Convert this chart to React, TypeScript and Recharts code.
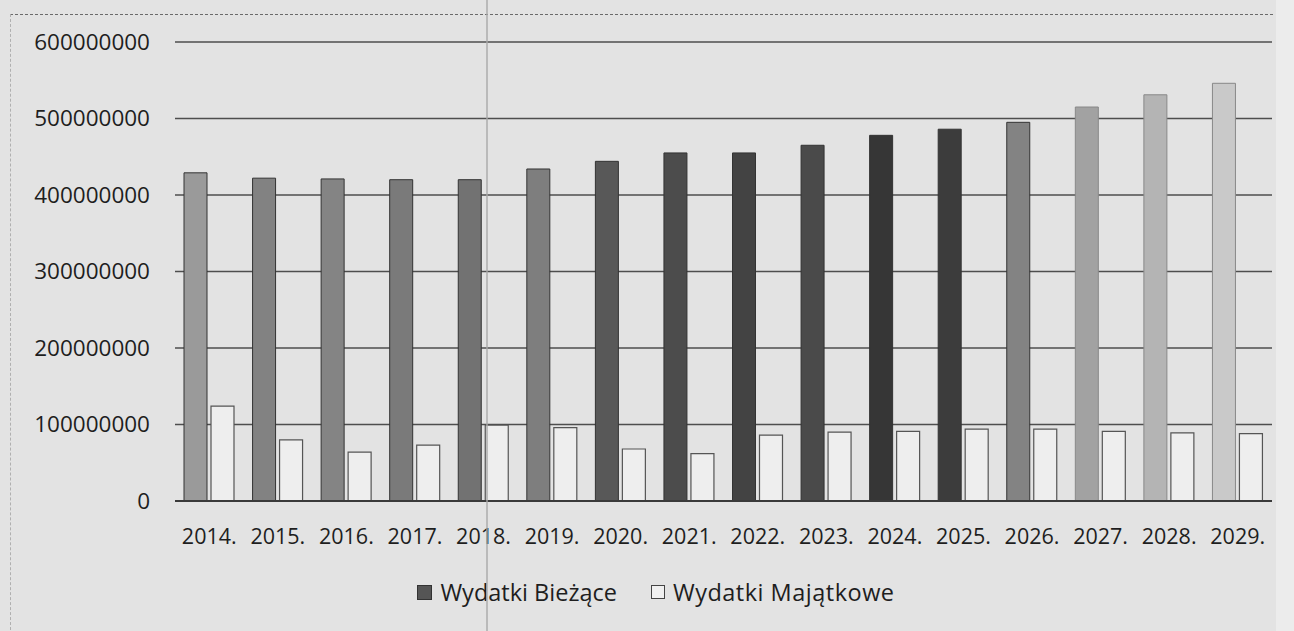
import { BarChart, Bar, XAxis, YAxis, CartesianGrid, Legend, Cell } from 'recharts'

// lata
const years = ['2014.', '2015.', '2016.', '2017.', '2018.', '2019.', '2020.', '2021.', '2022.', '2023.', '2024.', '2025.', '2026.', '2027.', '2028.', '2029.']
const wydatkiBiezace = [429e6, 422e6, 421e6, 420e6, 420e6, 434e6, 444e6, 455e6, 455e6, 465e6, 478e6, 486e6, 495e6, 515e6, 531e6, 546e6]
const wydatkiMajatkowe = [124e6, 80e6, 64e6, 73e6, 99e6, 96e6, 68e6, 62e6, 86e6, 90e6, 91e6, 94e6, 94e6, 91e6, 89e6, 88e6]
const yTicks = [0, 100000000, 200000000, 300000000, 400000000, 500000000, 600000000]

// odcienie ciemnych slupkow (skan)
const darkShades = ['#9a9a9a', '#828282', '#848484', '#7a7a7a', '#727272', '#7e7e7e', '#585858', '#4c4c4c', '#434343', '#4a4a4a', '#363636', '#3c3c3c', '#838383', '#a2a2a2', '#b4b4b4', '#c9c9c9']

const data = years.map((y, i) => ({
  year: y,
  biezace: wydatkiBiezace[i],
  majatkowe: wydatkiMajatkowe[i],
}))

const FONT = '"Open Sans", sans-serif'

const renderLegend = () => (
  <div style={{ height: 30, paddingLeft: 40, display: 'flex', justifyContent: 'center', alignItems: 'center', fontFamily: FONT, fontSize: 23.5, color: '#1e1e1e' }}>
    <span style={{ display: 'inline-block', width: 13, height: 13, background: '#555', border: '1px solid #333', marginRight: 8 }} />
    <span style={{ marginRight: 34 }}>Wydatki Bieżące</span>
    <span style={{ display: 'inline-block', width: 12, height: 12, background: '#f0f0f0', border: '1px solid #444', marginRight: 8 }} />
    <span style={{ letterSpacing: 0.5 }}>Wydatki Majątkowe</span>
  </div>
)

const App = () => {
  return (
    <div style={{ position: 'absolute', left: 0, top: 0, width: 1294, height: 631, background: '#e3e3e3', overflow: 'hidden' }}>
      <div style={{ position: 'absolute', left: 10, top: 14, width: 1262, height: 620, borderTop: '1px dashed #6a6a6a', borderLeft: '1px dashed #b0b0b0' }} />
      <div style={{ position: 'absolute', left: 1276, top: 0, width: 18, height: 631, background: '#ececec' }} />
      <BarChart
        width={1294}
        height={631}
        data={data}
        margin={{ top: 42, right: 22, left: 0, bottom: 24 }}
        barSize={23}
        barGap={4}
        style={{ position: 'absolute', left: 0, top: 0 }}
      >
        <CartesianGrid vertical={false} stroke='#4e4e4e' strokeWidth={1.3} />
        <XAxis
          dataKey='year'
          interval={0}
          height={76}
          tickLine={false}
          axisLine={{ stroke: '#3a3a3a', strokeWidth: 2 }}
          tickMargin={22}
          tick={{ fontSize: 21.5, fill: '#1e1e1e', fontFamily: FONT }}
        />
        <YAxis
          width={175}
          domain={[0, 600000000]}
          ticks={yTicks}
          tickFormatter={(v: number) => String(v)}
          axisLine={false}
          tickLine={false}
          tickMargin={19}
          tick={{ fontSize: 22.5, fill: '#1e1e1e', fontFamily: FONT }}
        />
        <Legend verticalAlign='bottom' content={renderLegend} />
        <Bar dataKey='biezace' name='Wydatki Bieżące' stroke='#333' strokeWidth={1} isAnimationActive={false}>
          {data.map((_, i) => (
            <Cell key={i} fill={darkShades[i]} stroke={i > 12 ? '#888' : '#333'} />
          ))}
        </Bar>
        <Bar dataKey='majatkowe' name='Wydatki Majątkowe' fill='#eeeeee' stroke='#555' strokeWidth={1.2} isAnimationActive={false} />
      </BarChart>
      <div style={{ position: 'absolute', left: 486, top: 0, width: 2, height: 631, background: '#a8a8a8', opacity: 0.7 }} />
    </div>
  )
}

export default App
